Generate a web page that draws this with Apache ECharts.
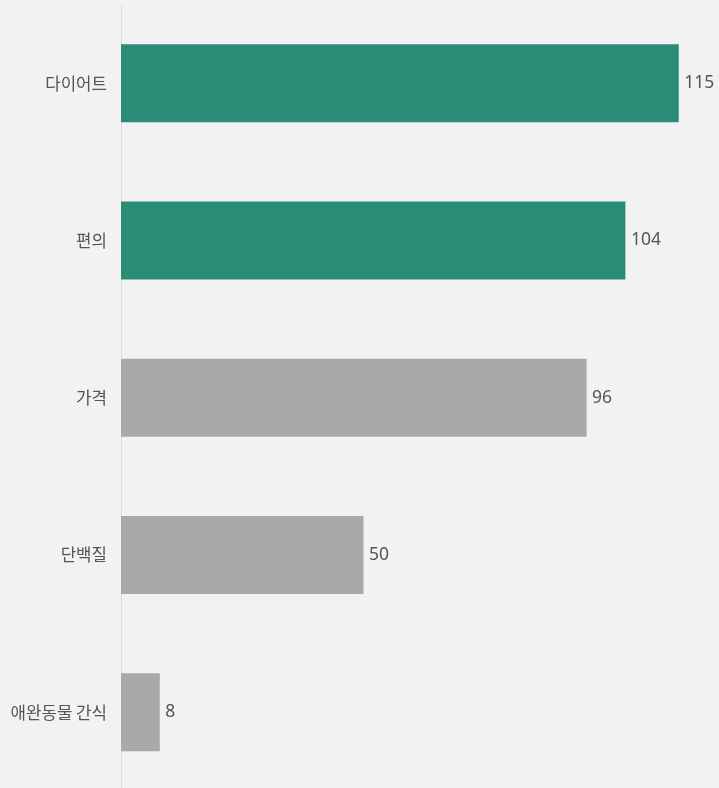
<!DOCTYPE html>
<html><head><meta charset="utf-8">
<script src="https://cdn.jsdelivr.net/npm/echarts@6/dist/echarts.min.js"></script>
<style>html,body{margin:0;padding:0;background:#f2f2f2}#c{width:719px;height:788px}</style>
</head><body><div id="c"></div>
<script>
var categories = ['다이어트', '편의', '가격', '단백질', '애완동물 간식'];
var values = [115, 104, 96, 50, 8];
var highlight = [true, true, false, false, false];
var chart = echarts.init(document.getElementById('c'));
chart.setOption({
  backgroundColor: '#f2f2f2',
  animation: false,
  grid: {left: 121, width: 582, top: 4.5, height: 786.5, containLabel: false, outerBoundsMode: 'none'},
  xAxis: {type: 'value', min: 0, max: 120, show: false},
  yAxis: {
    type: 'category', inverse: true, data: categories,
    axisLine: {show: true, lineStyle: {color: '#dcdcdc', width: 1}},
    axisTick: {show: false},
    axisLabel: {color: '#555', fontSize: 16.8, margin: 14, fontFamily: 'Noto Sans CJK KR'}
  },
  series: [{
    type: 'bar', barWidth: 78,
    data: values.map(function(v, i){ return {value: v, itemStyle: {color: highlight[i] ? '#2a8c76' : '#a9a9a9'}}; }),
    label: {show: true, position: 'right', distance: 5.5, color: '#555', fontSize: 17.5, fontFamily: 'Noto Sans'}
  }]
});
</script></body></html>
